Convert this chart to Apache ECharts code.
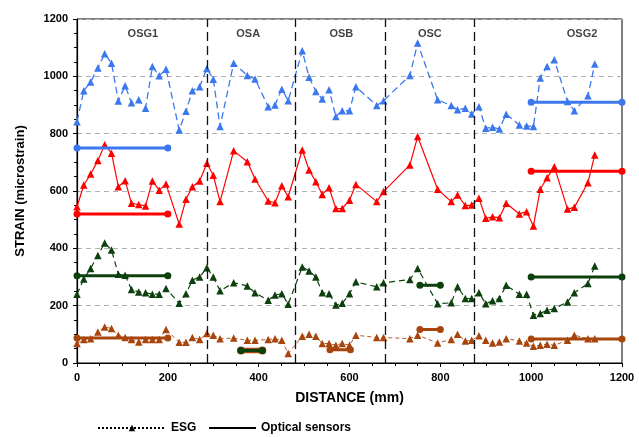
<!DOCTYPE html>
<html><head><meta charset="utf-8">
<script src="https://cdn.jsdelivr.net/npm/echarts@6/dist/echarts.min.js"></script>
<style>html,body{margin:0;padding:0;background:#fff}#c{width:639px;height:437px}</style>
</head><body><div id="c"></div>
<script>
const xPos = [0,15,30,46,61,76,91,106,120,136,151,166,181,196,225,240,254,270,286,300,315,345,375,392,421,436,451,465,496,511,526,540,555,570,584,600,614,660,675,733,750,794,824,838,855,869,885,900,915,930,945,974,990,1005,1020,1035,1051,1080,1095,1125,1140];
const esgBlue = [842,950,980,1029,1079,1046,914,967,908,918,889,1034,1002,1025,813,878,950,964,1027,990,825,1046,1003,991,894,900,955,915,1089,997,947,921,953,860,880,880,964,898,915,1003,1116,918,898,883,889,869,894,819,822,816,868,830,827,825,994,1034,1058,912,880,932,1043];
const esgRed = [545,621,659,706,761,732,615,636,557,553,548,635,603,624,485,571,615,635,697,655,563,740,702,642,565,559,618,580,743,673,632,588,611,539,539,568,623,563,598,691,790,606,563,586,549,551,575,505,510,507,557,520,528,478,606,646,685,537,543,629,726];
const esgGreen = [240,293,330,375,419,394,310,306,256,248,245,240,240,260,208,242,289,300,332,300,252,280,269,245,219,237,242,205,335,321,300,245,242,202,208,242,283,266,280,291,330,207,210,266,225,225,245,207,217,225,271,240,240,167,173,184,190,213,245,277,338];
const esgBrown = [68,82,85,108,126,120,97,89,82,73,82,82,82,117,72,72,89,82,103,97,85,87,79,79,82,85,79,33,93,100,93,68,68,62,68,62,97,89,89,85,97,70,82,100,77,79,95,79,70,73,85,77,70,58,62,65,62,79,97,85,85];
// optical sensor segments: [start, end, value]
const optBlue = [[0,200,750],[1000,1200,910]];
const optRed = [[0,200,520],[1000,1200,669]];
const optGreen = [[0,200,304],[361,408,44],[755,800,271],[1000,1200,300]];
const optBrown = [[0,200,87],[557,602,46],[755,800,117],[1000,1200,84]];
const dividers = [286,481,678,874];
const sectionNames = ['OSG1','OSA','OSB','OSC','OSG2'];
const sectionPos = [145,377,582,777,1112];
const sectionLabelY = 1148;
const xTicks = [0,200,400,600,800,1000,1200];
const yTicks = [0,200,400,600,800,1000,1200];
const legendNames = ['ESG','Optical sensors'];

const C = {blue:'#3b78ee', red:'#ff0000', green:'#0c400c', brown:'#a8450c'};
const F = 'Liberation Sans, Arial, sans-serif';

function esg(name, vals, color, type, width){
  return {type:'line', name:'_'+name, data:xPos.map((x,i)=>[x,vals[i]]), symbol:'triangle', symbolSize:7.5,
    itemStyle:{color:color}, lineStyle:{color:color, type:type, width:width}, z:3, silent:true};
}
function opt(segs, color, w, ss, z){
  return segs.map(s=>({type:'line', data:[[s[0],s[2]],[s[1],s[2]]], symbol:'circle', symbolSize:ss,
    itemStyle:{color:color}, lineStyle:{color:color,width:w}, z:z, silent:true}));
}
const series = [
  esg('b', esgBlue, C.blue, [7,4], 1.3),
  esg('r', esgRed, C.red, 'solid', 1.2),
  esg('g', esgGreen, C.green, [6,4], 1.2),
  esg('o', esgBrown, C.brown, [4,3], 0.9),
  ...opt(optBlue, C.blue, 3, 7, 4),
  ...opt(optRed, C.red, 3, 7, 4),
  ...opt([optBrown[1],optBrown[2]], C.brown, 3, 7, 4),
  ...opt([optBrown[0],optBrown[3]], C.brown, 3, 7, 4),
  ...opt([optGreen[1]], C.brown, 5.5, 8, 4),
  ...opt(optGreen, C.green, 3, 7, 5),
  {type:'line', data:[], markLine:{silent:true, symbol:['none','none'], label:{show:false},
    lineStyle:{color:'#111', type:[9,5], width:1.3}, data:dividers.map(d=>({xAxis:d}))}},
  {type:'scatter', data:sectionNames.map((n,i)=>({value:[sectionPos[i],sectionLabelY], name:n})), symbolSize:0,
    label:{show:true, position:'inside', formatter:p=>p.name, fontFamily:F, fontWeight:'bold', fontSize:11, color:'#111'}},
  {type:'line', name:legendNames[0], data:[], symbol:'triangle', symbolSize:7, itemStyle:{color:'#000'}, lineStyle:{color:'#000', type:'dotted', width:1}},
  {type:'line', name:legendNames[1], data:[], symbol:'none', itemStyle:{color:'#000'}, lineStyle:{color:'#000', width:2.5}}
];

const legText = {fontFamily:F, fontSize:12, fontWeight:'bold', color:'#000'};
const chart = echarts.init(document.getElementById('c'), null, {renderer:'canvas'});
chart.setOption({
  animation:false,
  grid:{left:77, right:17, top:19, bottom:74, show:true, borderColor:'#000', borderWidth:1},
  legend:[
    {data:[legendNames[0]], top:417, left:92, itemWidth:68, itemHeight:8, itemGap:5, textStyle:legText},
    {data:[{name:legendNames[1], itemStyle:{opacity:0}}], top:417, left:203, itemWidth:47, itemHeight:8, itemGap:5, textStyle:legText}
  ],
  xAxis:{type:'value', min:0, max:1200, interval:200, name:'DISTANCE (mm)', nameLocation:'middle', nameGap:28,
    nameTextStyle:{fontFamily:F, fontWeight:'bold', fontSize:14, color:'#000'},
    axisLine:{lineStyle:{color:'#000', width:1.2}}, axisTick:{inside:false, length:4, lineStyle:{color:'#000'}},
    minorTick:{show:true, splitNumber:4, length:3, lineStyle:{color:'#000'}},
    axisLabel:{fontFamily:F, fontWeight:'bold', fontSize:11, color:'#000', margin:9, formatter:v=>xTicks.includes(v)?String(v):''},
    splitLine:{show:false}},
  yAxis:{type:'value', min:0, max:1200, interval:200, name:'STRAIN (microstrain)', nameLocation:'middle', nameGap:50,
    nameTextStyle:{fontFamily:F, fontWeight:'bold', fontSize:13, color:'#000'},
    axisLine:{show:true, lineStyle:{color:'#000', width:1.2}}, axisTick:{show:true, length:4, lineStyle:{color:'#000'}},
    minorTick:{show:true, splitNumber:4, length:3, lineStyle:{color:'#000'}},
    axisLabel:{fontFamily:F, fontWeight:'bold', fontSize:11, color:'#000', margin:9, formatter:v=>yTicks.includes(v)?String(v):''},
    splitLine:{show:true, lineStyle:{color:'#b0b0b0', type:[5,4], width:1}}},
  series: series
});
</script></body></html>
